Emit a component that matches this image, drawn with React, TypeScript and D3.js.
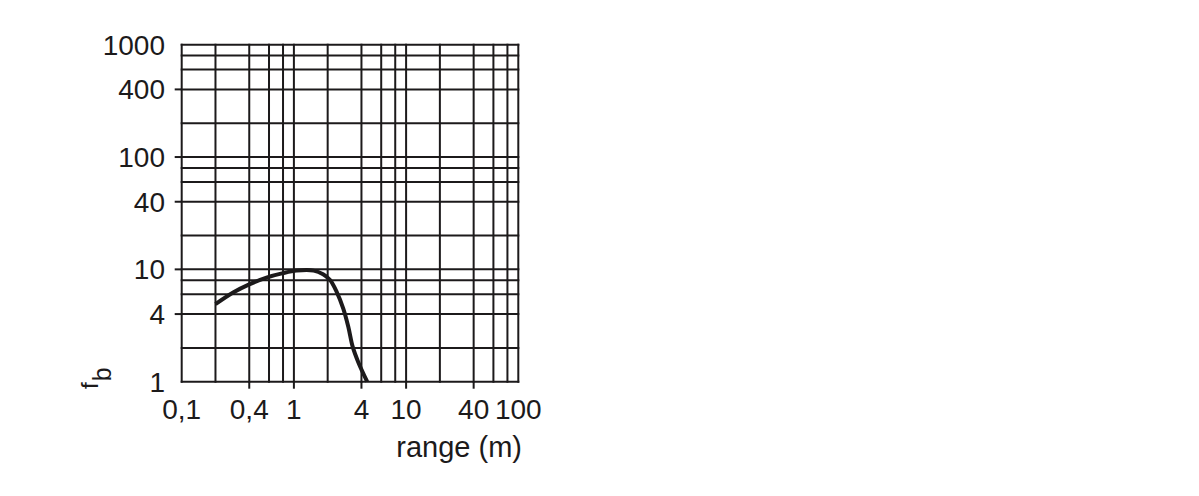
import React from "react";
import * as d3 from "d3";

// chart values
const xGridValues = [0.1, 0.2, 0.4, 0.6, 0.8, 1, 2, 4, 6, 8, 10, 20, 40, 60, 80, 100];
const yGridValues = [1, 2, 4, 6, 8, 10, 20, 40, 60, 80, 100, 200, 400, 600, 800, 1000];
const xTickValues = [0.1, 0.4, 1, 4, 10, 40, 100];
const xTickLabels = ["0,1", "0,4", "1", "4", "10", "40", "100"];
const yTickValues = [1, 4, 10, 40, 100, 400, 1000];
const yTickLabels = ["1", "4", "10", "40", "100", "400", "1000"];
const rangeM = [0.2, 0.29, 0.4, 0.57, 0.8, 1.06, 1.5, 1.82, 2.1, 2.4, 2.75, 3.05, 3.34, 3.74, 4.5];
const fbValues = [4.9, 6.25, 7.35, 8.45, 9.25, 9.75, 9.75, 9.05, 8.05, 6.35, 4.5, 3.1, 2.05, 1.5, 1.0];

const W = 1199;
const H = 496;
const ink = "#1c1a1b";

export default function App() {
  const x = d3.scaleLog().domain([0.1, 100]).range([181.7, 518.3]);
  const y = d3.scaleLog().domain([1, 1000]).range([381.7, 44.7]);
  const [x0, x1] = x.range();
  const [y0, y1] = y.range();

  const pts: [number, number][] = rangeM.map((r, i) => [r, fbValues[i]]);
  const line = d3
    .line<[number, number]>()
    .x((d) => x(d[0]))
    .y((d) => y(d[1]))
    .curve(d3.curveCatmullRom.alpha(0.5));

  // ticks only on inner labelled values
  const isEdgeX = (v: number) => v === 0.1 || v === 100;
  const isEdgeY = (v: number) => v === 1 || v === 1000;

  return (
    <div style={{ position: "absolute", left: 0, top: 0 }}>
      <svg width={W} height={H} style={{ display: "block", background: "#fff" }}
        fontFamily="'Liberation Sans', Arial, sans-serif">
        {/* grid */}
        <g stroke={ink} strokeWidth={2}>
          {xGridValues.map((v) => (
            <line key={"gx" + v} x1={x(v)} x2={x(v)} y1={y1 - 1} y2={y0 + 1} />
          ))}
          {yGridValues.map((v) => (
            <line key={"gy" + v} x1={x0 - 1} x2={x1 + 1} y1={y(v)} y2={y(v)} />
          ))}
          {xTickValues.filter((v) => !isEdgeX(v)).map((v) => (
            <line key={"tx" + v} x1={x(v)} x2={x(v)} y1={y0} y2={y0 + 7} />
          ))}
          {yTickValues.filter((v) => !isEdgeY(v)).map((v) => (
            <line key={"ty" + v} x1={x0 - 7} x2={x0} y1={y(v)} y2={y(v)} />
          ))}
        </g>

        {/* curve */}
        <path d={line(pts) ?? ""} fill="none" stroke={ink} strokeWidth={4}
          strokeLinecap="butt" strokeLinejoin="round" />

        {/* x tick labels */}
        <g fill={ink} fontSize={28} textAnchor="middle">
          {xTickValues.map((v, i) => (
            <text key={"lx" + v} x={x(v)} y={419}>{xTickLabels[i]}</text>
          ))}
        </g>

        {/* y tick labels */}
        <g fill={ink} fontSize={28} textAnchor="end">
          {yTickValues.map((v, i) => (
            <text key={"ly" + v} x={165} y={y(v) + 10}>{yTickLabels[i]}</text>
          ))}
        </g>

        {/* axis titles */}
        <text x={522} y={457} fontSize={29} textAnchor="end" fill={ink}>range (m)</text>
        <text transform="translate(98,389) rotate(-90)" fontSize={24} fill={ink}>
          f<tspan dx={1} dy={13} fontSize={25}>b</tspan>
        </text>
      </svg>
    </div>
  );
}
